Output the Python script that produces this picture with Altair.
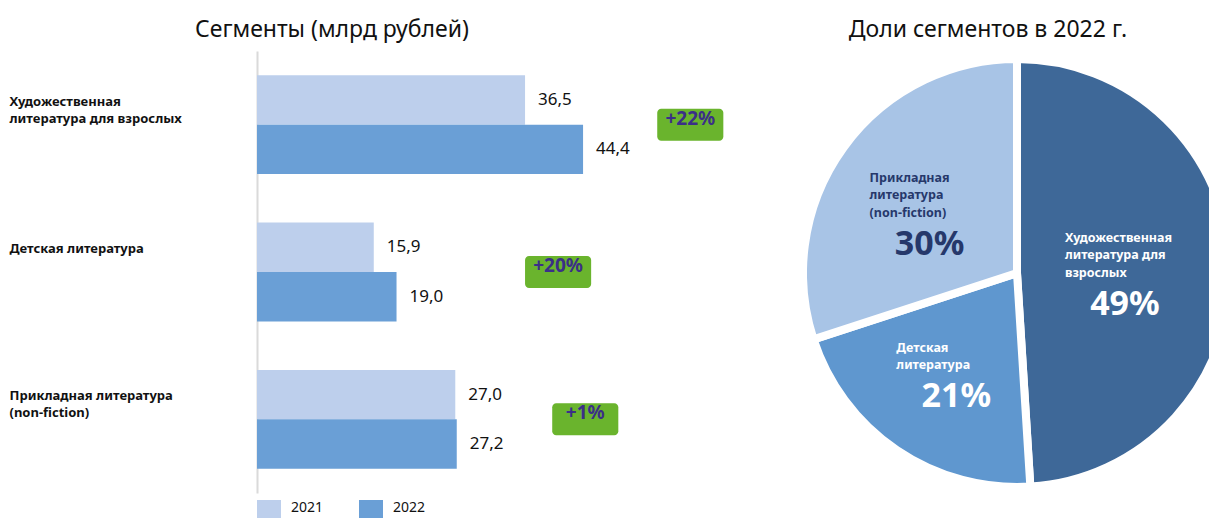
import altair as alt
import pandas as pd

# ---------------- data ----------------
categories = [
    "Художественная литература для взрослых",
    "Детская литература",
    "Прикладная литература (non-fiction)",
]
bar_labels = [
    "Художественная\nлитература для взрослых",
    "Детская литература",
    "Прикладная литература\n(non-fiction)",
]
pie_labels = [
    "Художественная\nлитература для\nвзрослых",
    "\nДетская\nлитература",
    "Прикладная\nлитература\n(non-fiction)",
]
years = ["2021", "2022"]
values_2021 = [36.5, 15.9, 27.0]
values_2022 = [44.4, 19.0, 27.2]
growth = ["+22%", "+20%", "+1%"]
shares = ["49%", "21%", "30%"]

# ---------------- layout / style ----------------
FONT = "Noto Sans"
C21 = "#BDCFEC"
C22 = "#6A9FD6"
GREEN = "#6AB42D"
BADGE_TEXT = "#3B2F88"
PIE_COLORS = ["#3E6898", "#5F97CF", "#A8C4E6"]
NAVY = "#26386B"
BADGE_X = [54.5, 36.5, 40.2]   # left edge of the growth badges, in axis units
BADGE_W = 9.0

def fmt(v):
    return f"{v:.1f}".replace(".", ",")

rows = []
for lab, a, b in zip(bar_labels, values_2021, values_2022):
    rows.append({"cat": lab, "year": "2021", "value": a, "label": fmt(a)})
    rows.append({"cat": lab, "year": "2022", "value": b, "label": fmt(b)})
df = pd.DataFrame(rows)

badges = pd.DataFrame({
    "cat": bar_labels,
    "start": BADGE_X,
    "end": [x + BADGE_W for x in BADGE_X],
    "mid": [x + BADGE_W / 2 for x in BADGE_X],
    "txt": growth,
})

pie = pd.DataFrame({
    "cat": categories,
    "plabel": pie_labels,
    "value": values_2022,
    "idx": list(range(len(categories))),
    "pct": shares,
})

yenc = alt.Y(
    "cat:N",
    sort=bar_labels,
    title=None,
    scale=alt.Scale(paddingInner=0, paddingOuter=0),
    axis=alt.Axis(
        labelExpr="split(datum.label, '\\n')",
        labelAlign="left",
        labelBaseline="middle",
        labelPadding=248,
        labelOffset=-23,
        labelLimit=0,
        labelFont=FONT,
        labelFontSize=13,
        labelFontWeight="bold",
        labelColor="#111111",
        labelLineHeight=17,
        ticks=False,
        tickSize=0,
        domainColor="#DADADA",
        domainWidth=2,
        grid=False,
    ),
)
xscale = alt.Scale(domain=[0, 64], nice=False, zero=True)
yoff = alt.YOffset("year:N", sort=years, scale=alt.Scale(paddingInner=0, paddingOuter=0.49))

bars = alt.Chart(df).mark_bar().encode(
    x=alt.X("value:Q", scale=xscale, axis=None),
    y=yenc,
    yOffset=yoff,
    color=alt.Color(
        "year:N",
        scale=alt.Scale(domain=years, range=[C21, C22]),
        legend=alt.Legend(
            orient="bottom", title=None, direction="horizontal",
            symbolType="square", symbolSize=576, symbolStrokeWidth=0,
            labelFont=FONT, labelFontSize=14, labelColor="#111111",
            labelBaseline="alphabetic",
            labelOffset=10, columnPadding=35, offset=7,
        ),
    ),
)
vals = alt.Chart(df).mark_text(
    align="left", baseline="middle", dx=13, font=FONT, fontSize=17, color="#111111"
).encode(x=alt.X("value:Q", scale=xscale), y=yenc, yOffset=yoff, text="label:N")

badge_box = alt.Chart(badges).mark_bar(height=32, cornerRadius=4, color=GREEN).encode(
    x=alt.X("start:Q", scale=xscale), x2="end:Q", y=yenc
)
badge_txt = alt.Chart(badges).mark_text(
    font=FONT, fontSize=19, fontWeight="bold", color=BADGE_TEXT, dy=-6
).encode(x=alt.X("mid:Q", scale=xscale), y=yenc, text="txt:N")

left = alt.layer(bars, vals, badge_box, badge_txt).properties(
    width=470, height=442,
    title=alt.TitleParams(
        "Сегменты (млрд рублей)", anchor="start", frame="group", dx=-62,
        font=FONT, fontSize=23, fontWeight="normal", color="#111111",
        baseline="alphabetic", offset=-9,
    ),
)

base = alt.Chart(pie).encode(
    theta=alt.Theta("value:Q", stack=True),
    order=alt.Order("idx:Q"),
    x=alt.value(210),
)
arcs = base.mark_arc(outerRadius=214, stroke="white", strokeWidth=8, clip=True).encode(
    color=alt.Color("cat:N", scale=alt.Scale(domain=categories, range=PIE_COLORS), legend=None)
)
txtcolor = alt.condition(alt.datum.idx == 2, alt.value(NAVY), alt.value("white"))
names = base.mark_text(
    radius=108, align="left", baseline="middle", dx=-60, dy=-32, lineBreak="\n",
    font=FONT, fontSize=12.5, fontWeight="bold", lineHeight=17.5,
).encode(text="plabel:N", color=txtcolor)
pcts = base.mark_text(
    radius=108, align="center", baseline="middle", dy=35,
    font=FONT, fontSize=34, fontWeight="bold",
).encode(text="pct:N", color=txtcolor)

right = alt.layer(arcs, names, pcts).properties(
    width=402, height=444,
    title=alt.TitleParams(
        "Доли сегментов в 2022 г.", anchor="middle", dx=-20,
        font=FONT, fontSize=23, fontWeight="normal", color="#111111",
        baseline="alphabetic", offset=-9,
    ),
)

chart = (
    alt.hconcat(left, right, spacing=80)
    .resolve_scale(color="independent")
    .configure(font=FONT)
    .configure_view(strokeWidth=0, stroke="transparent")
    .properties(padding={"left": 1, "top": 11, "right": 0, "bottom": 0})
)

chart.save("out.html", embed_options={"renderer": "svg", "actions": False})
